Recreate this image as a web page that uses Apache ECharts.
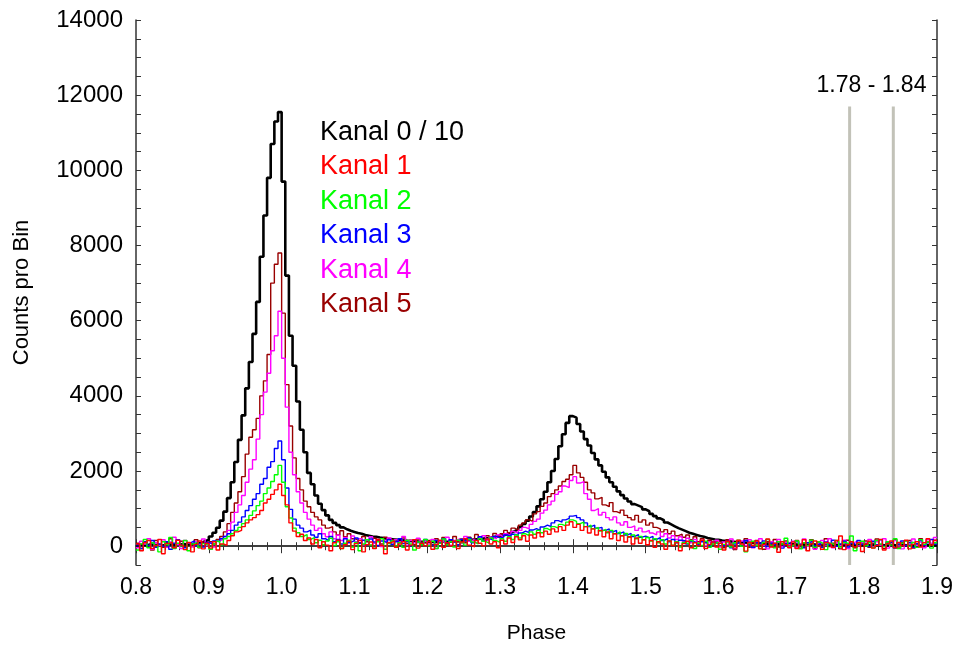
<!DOCTYPE html>
<html>
<head>
<meta charset="utf-8">
<script src="https://cdn.jsdelivr.net/npm/echarts@6/dist/echarts.min.js"></script>
<style>
  html, body { margin: 0; padding: 0; background: #fff; }
  #phasePlot { width: 956px; height: 649px; }
</style>
</head>
<body>
<div id="phasePlot"></div>
<script>
// Histogramm: Bins von 0.8 bis 1.9, Breite 0.005
const phaseStart = 0.8;
const binWidth = 0.005;

const channelNames = ["Kanal 0 / 10", "Kanal 1", "Kanal 2", "Kanal 3", "Kanal 4", "Kanal 5"];
const channelColors = ["#000000", "#ff0000", "#00ff00", "#0000ff", "#ff00ff", "#990000"];

// Kanal 0 (durch 10 geteilt)
const kanal0 = [
  30, 40, 20, 50, 30, 40, 20, 30, 50, 40, 30, 40, 60, 50, 40, 60, 70, 90, 130, 170,
  260, 360, 490, 680, 920, 1280, 1700, 2240, 2830, 3480, 4200, 4900, 5650, 6500, 7700, 8800, 9800, 10700, 11300, 11550,
  9700, 7200, 5600, 4800, 3850, 3100, 2500, 1950, 1650, 1350, 1130, 960, 820, 700, 620, 560, 500, 450, 410, 380,
  350, 330, 300, 280, 260, 250, 230, 220, 200, 190, 180, 170, 160, 150, 140, 130, 130, 120, 120, 110,
  110, 110, 110, 120, 120, 120, 130, 130, 140, 150, 160, 170, 180, 190, 200, 210, 220, 240, 260, 280,
  290, 320, 360, 400, 450, 510, 590, 680, 790, 910, 1060, 1250, 1450, 1700, 2000, 2320, 2660, 2980, 3280, 3460,
  3420, 3250, 3050, 2850, 2680, 2480, 2310, 2150, 1980, 1830, 1700, 1580, 1460, 1360, 1270, 1190, 1120, 1080, 1040, 980,
  930, 860, 800, 740, 690, 630, 580, 530, 480, 440, 400, 360, 330, 300, 270, 250, 220, 200, 180, 170,
  150, 140, 130, 120, 110, 100, 100, 90, 90, 80, 80, 70, 70, 70, 60, 60, 60, 50, 50, 50,
  50, 40, 50, 40, 40, 50, 40, 30, 40, 40, 30, 40, 30, 30, 40, 30, 30, 20, 30, 30,
  30, 20, 30, 20, 30, 20, 20, 30, 20, 20, 30, 20, 20, 10, 20, 20, 30, 20, 20, 20
];

const kanal1 = [
  60, -120, 90, 150, -60, 20, 180, -200, 70, 110, -40, 160, 30, -90, 100, -150, 50, 140, -70, 80,
  -50, 120, -100, 60, 20, 150, 280, 380, 420, 520, 620, 700, 760, 840, 950, 1150, 1250, 1380, 1500, 1650,
  1350, 1100, 620, 400, 260, 320, 150, 220, 60, 180, -40, 120, 30, -120, 90, 160, -60, 40, 130, -90,
  70, 150, -150, 40, 110, -60, 180, 20, -200, 90, 140, -30, 60, 120, -100, 30, 170, -50, 80, 10,
  120, -80, 50, 160, -30, 90, 10, 140, -60, 110, 200, 30, -20, 150, 80, 10, 190, 60, 120, -40,
  160, 60, 220, 100, 250, 170, 280, 130, 300, 220, 360, 250, 400, 320, 460, 380, 520, 420, 560, 650,
  500, 580, 420, 520, 350, 460, 300, 420, 250, 380, 200, 330, 150, 280, 110, 250, 60, 220, 80, 170,
  40, 150, -30, 120, 60, -80, 140, 20, 100, -120, 70, 130, -40, 90, 10, 160, -60, 50, 110, -20,
  80, -100, 130, 30, -50, 160, 60, -130, 100, 20, 140, -70, 50, 190, -20, 80, -160, 120, 40, -40,
  110, -60, 30, 170, -120, 60, 140, 10, -80, 100, 50, -30, 150, 270, -90, 40, 120, -20, 90, -140,
  60, 130, -50, 20, 180, -100, 70, 140, -40, 100, 10, 160, -70, 50, 120, -20, 90, 200, 30, 150
];

const kanal2 = [
  -100, 60, 180, -40, 90, 20, -150, 120, 40, 230, -60, 80, 10, 150, -120, 60, 110, -30, 70, 20,
  -80, 60, 130, 40, 200, 260, 330, 420, 500, 600, 700, 820, 940, 1080, 1200, 1400, 1550, 1720, 1900, 2150,
  1700, 1050, 750, 480, 360, 260, 310, 180, 230, 90, 160, 40, 140, 210, 20, 120, -60, 80, 160, -20,
  100, -120, 60, 170, 30, -50, 120, 200, -80, 70, 140, 10, 90, -30, 150, 60, -100, 110, 40, 180,
  20, 130, -60, 80, 190, 40, 120, -20, 160, 90, 30, 180, 110, 60, 200, 130, 80, 220, 150, 100,
  200, 130, 250, 180, 300, 220, 330, 280, 380, 320, 420, 360, 470, 420, 520, 480, 580, 540, 640, 700,
  660, 600, 640, 520, 560, 460, 500, 400, 450, 360, 420, 330, 380, 280, 340, 240, 300, 200, 260, 170,
  230, 140, 200, 90, 170, 60, 140, 30, 120, -20, 100, 50, 150, -60, 80, 20, 130, -30, 60, 100,
  -80, 50, 120, -20, 90, 160, 0, -150, 70, 130, 20, -60, 100, 180, 30, -40, 120, 60, 210, -10,
  40, 140, -70, 90, 20, 160, -30, 110, 60, -90, 80, 30, 150, -20, 100, 50, 270, -120, 70, 130,
  10, 90, -40, 150, 60, -10, 120, 30, 200, -60, 80, 140, 0, 100, -30, 170, 50, 110, -50, 90
];

const kanal3 = [
  40, -60, 110, 20, 150, -30, 60, 0, 120, -80, 80, 170, 30, -40, 90, 140, 10, 70, -20, 100,
  60, 140, 120, 200, 260, 330, 420, 560, 640, 780, 950, 1080, 1250, 1400, 1650, 1800, 2100, 2250, 2600, 2800,
  2300, 1550, 980, 720, 560, 480, 380, 430, 300, 240, 330, 200, 150, 260, 120, 180, 60, 200, 100, 150,
  220, 80, 160, 40, 190, 110, 20, 140, 90, 170, 50, 120, 200, 70, 130, 10, 160, 100, 60, 180,
  120, 30, 150, 90, 200, 60, 170, 110, 40, 180, 130, 220, 90, 160, 250, 140, 200, 170, 260, 220,
  240, 300, 260, 320, 290, 350, 400, 360, 430, 470, 420, 510, 560, 520, 620, 680, 640, 700, 740, 800,
  820, 760, 700, 620, 520, 560, 480, 500, 420, 460, 380, 420, 340, 380, 300, 340, 260, 310, 240, 270,
  220, 260, 180, 230, 150, 200, 120, 180, 90, 160, 140, 60, 130, 100, 40, 120, 80, 20, 110, 60,
  90, 20, 130, -40, 60, 110, 0, 150, 40, -30, 100, 60, 140, -10, 80, 30, 120, -50, 70, 100,
  10, 120, 50, -40, 90, 140, 20, 70, -30, 110, 40, 160, 0, 60, 130, -20, 80, 30, 150, 50,
  90, -10, 130, 40, 170, 0, 80, 120, -50, 60, 140, 20, 100, -30, 70, 150, 30, 90, 180, 60
];

const kanal4 = [
  -40, 130, 60, 200, -80, 90, 20, 170, -30, 110, 240, 40, -60, 150, 80, -20, 120, 60, 190, 20,
  90, -20, 140, 180, 260, 420, 640, 900, 1100, 1350, 1700, 2050, 2300, 2850, 3500, 4100, 4600, 5200, 5600, 6250,
  5000, 3700, 2500, 1900, 1450, 1150, 900, 720, 560, 420, 480, 330, 250, 380, 200, 290, 150, 230, 90, 270,
  120, 200, 40, 160, 250, 80, 180, -10, 140, 220, 60, 170, 110, 260, 30, 150, 90, 210, 70, 130,
  60, 180, -60, 140, 90, 240, 30, 150, 200, 70, 260, 130, 180, 90, 220, 280, 160, 240, 200, 300,
  250, 330, 280, 390, 340, 420, 500, 460, 580, 660, 720, 880, 960, 1100, 1200, 1380, 1450, 1600, 1560, 1750,
  1850, 1680, 1720, 1400, 1250, 950, 1000, 830, 900, 760, 700, 780, 620, 560, 650, 500, 540, 420, 480, 380,
  420, 350, 300, 380, 260, 330, 220, 280, 180, 250, 130, 210, 90, 180, 60, 150, 20, 120, 70, 160,
  -20, 110, 50, 190, -60, 80, 140, 20, 170, -40, 90, 200, 30, -70, 120, 60, 180, -10, 100, 40,
  130, -30, 70, 190, 0, 110, -80, 60, 150, 30, 200, -40, 90, 20, 160, -60, 80, 130, 10, 100,
  60, 180, -20, 120, 30, 200, -50, 90, 150, 10, -70, 130, 60, 190, 20, 110, -40, 170, 80, 230
];

const kanal5 = [
  80, -60, 120, 20, -100, 150, 40, -30, 90, 200, -50, 60, 130, -20, 80, 10, 170, -40, 110, 60,
  120, 60, 180, 260, 380, 600, 900, 1150, 1450, 1850, 2450, 2900, 3100, 3400, 4000, 4400, 5100, 7000, 7500, 7800,
  6200, 4300, 3200, 2350, 1800, 1500, 1200, 1050, 900, 780, 700, 560, 480, 520, 380, 300, 410, 250, 330, 200,
  180, 90, 260, 120, 30, 210, 150, 60, 240, 100, 170, -20, 130, 220, 80, 160, 40, 190, 110, 70,
  150, 40, 200, 110, 230, 80, 170, 260, 120, 190, 90, 240, 160, 310, 200, 140, 280, 220, 340, 260,
  330, 420, 360, 480, 430, 560, 620, 700, 660, 860, 920, 1060, 1150, 1320, 1400, 1500, 1600, 1720, 1780, 1900,
  2150, 1950, 1830, 1700, 1500, 1420, 1260, 1300, 1100, 1050, 1160, 920, 880, 960, 820, 760, 700, 820, 640, 700,
  560, 620, 500, 460, 380, 440, 330, 400, 280, 320, 240, 300, 170, 250, 120, 200, 90, 160, 60, 140,
  100, -40, 170, 60, -90, 130, 20, 200, -30, 90, 150, 10, -80, 120, 60, 180, -20, 70, 140, 20,
  60, 150, -50, 90, 10, 170, -60, 110, 40, 200, -10, 80, 130, -70, 50, 160, 20, -40, 100, 60,
  140, -30, 80, 190, 20, -60, 110, 50, 170, -20, 90, 30, 150, -50, 70, 200, 10, 120, 40, 160
];

const channelData = [kanal0, kanal1, kanal2, kanal3, kanal4, kanal5];

// Grenzen des Vergleichsbereichs
const markerPhases = [1.78, 1.84];
const markerTop = 11700;
const markerLabel = "1.78 - 1.84";

const yTickLabels = [0, 2000, 4000, 6000, 8000, 10000, 12000, 14000];

function toSteps(values) {
  const pts = values.map((v, i) => [+(phaseStart + i * binWidth).toFixed(4), v]);
  pts.push([+(phaseStart + values.length * binWidth).toFixed(4), values[values.length - 1]]);
  return pts;
}

const chartInstance = echarts.init(document.getElementById("phasePlot"));

const axisColor = "#333";
const fontFamily = "'Liberation Sans', Arial, sans-serif";

// Reihenfolge beim Zeichnen: Kanal 0 hinten, Kanal 1 oben
const drawOrder = [0, 5, 4, 3, 2, 1];

const series = [];
markerPhases.forEach(p => {
  series.push({
    type: "line",
    data: [[p, -500], [p, markerTop]],
    showSymbol: false,
    lineStyle: { color: "#c2c2b8", width: 3 },
    z: 1,
    silent: true,
  });
});
drawOrder.forEach(k => {
  series.push({
    name: channelNames[k],
    type: "line",
    step: "end",
    data: toSteps(channelData[k]),
    showSymbol: false,
    lineStyle: { color: channelColors[k], width: k === 0 ? 2.6 : 1.4 },
    itemStyle: { color: channelColors[k] },
    z: 2,
  });
});
series.push({
  type: "scatter",
  data: [[(markerPhases[0] + markerPhases[1]) / 2, 12250]],
  symbolSize: 0,
  itemStyle: { opacity: 1 },
  label: {
    show: true,
    formatter: markerLabel,
    color: "#000",
    opacity: 1,
    fontSize: 23,
    fontFamily: fontFamily,
  },
  z: 5,
  silent: true,
});

const option = {
  backgroundColor: "#fff",
  animation: false,
  grid: { left: 136, right: 19, top: 20, bottom: 84 },
  xAxis: [
    {
      type: "value",
      min: 0.8,
      max: 1.9,
      interval: 0.1,
      name: "Phase",
      nameLocation: "middle",
      nameGap: 58,
      nameTextStyle: { color: "#000", fontSize: 21, fontFamily: fontFamily },
      axisLine: { show: true, lineStyle: { color: axisColor, width: 1.5 } },
      axisTick: { inside: true, length: 7, lineStyle: { color: axisColor } },
      minorTick: { show: true, splitNumber: 5, length: 4, lineStyle: { color: axisColor } },
      splitLine: { show: false },
      axisLabel: {
        color: "#000",
        fontSize: 23,
        fontFamily: fontFamily,
        margin: 11,
        formatter: v => v.toFixed(1),
      },
    },
    {
      type: "value",
      position: "top",
      min: 0.8,
      max: 1.9,
      interval: 0.1,
      axisLine: { show: true, lineStyle: { color: axisColor, width: 1.5 } },
      axisTick: { inside: true, length: 7, lineStyle: { color: axisColor } },
      minorTick: { show: true, splitNumber: 5, length: 4, lineStyle: { color: axisColor } },
      splitLine: { show: false },
      axisLabel: { show: false },
    },
  ],
  yAxis: [
    {
      type: "value",
      min: -500,
      max: 14000,
      interval: 500,
      name: "Counts pro Bin",
      nameLocation: "middle",
      nameGap: 103,
      nameTextStyle: { color: "#000", fontSize: 22, fontFamily: fontFamily },
      axisLine: { show: true, lineStyle: { color: axisColor, width: 1.5 } },
      axisTick: { inside: true, length: 5, lineStyle: { color: axisColor } },
      splitLine: { show: false },
      axisLabel: {
        color: "#000",
        fontSize: 24,
        fontFamily: fontFamily,
        margin: 13,
        formatter: v => (yTickLabels.includes(v) ? String(v) : ""),
      },
    },
    {
      type: "value",
      position: "right",
      min: -500,
      max: 14000,
      interval: 500,
      axisLine: { show: true, lineStyle: { color: axisColor, width: 1.5 } },
      axisTick: { inside: true, length: 5, lineStyle: { color: axisColor } },
      splitLine: { show: false },
      axisLabel: { show: false },
    },
  ],
  graphic: channelNames.map((name, k) => ({
    type: "text",
    left: 320,
    top: 119 + k * 34.5,
    style: {
      text: name,
      fill: channelColors[k],
      fontSize: 27,
      fontFamily: fontFamily,
    },
    z: 10,
  })),
  series: series,
};

chartInstance.setOption(option);
</script>
</body>
</html>
